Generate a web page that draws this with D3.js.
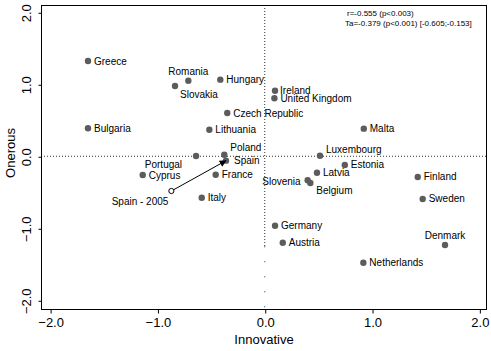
<!DOCTYPE html>
<html>
<head>
  <meta charset="UTF-8">
  <title>Innovative vs Onerous</title>
  <script src="https://d3js.org/d3.v7.min.js"></script>
  <style>
    body { margin: 0; background: white; }
    svg text { font-family: "Liberation Sans", Arial, sans-serif; fill: black; }
  </style>
</head>
<body>
<svg id="chart"></svg>
<script>
  // country scores
  let countries = ["Greece", "Romania", "Slovakia", "Hungary", "Czech Republic", "Bulgaria",
                   "Lithuania", "Ireland", "United Kingdom", "Malta", "Luxembourg", "Estonia",
                   "Latvia", "Slovenia", "Belgium", "Finland", "Poland", "Portugal", "Spain",
                   "Cyprus", "France", "Italy", "Sweden", "Germany", "Austria", "Denmark", "Netherlands"];
  let innovative = [-1.647, -0.712, -0.836, -0.414, -0.349, -1.647,
                    -0.516, 0.096, 0.090, 0.923, 0.515, 0.746,
                    0.487, 0.400, 0.425, 1.426, -0.377, -0.640, -0.361,
                    -1.137, -0.457, -0.587, 1.472, 0.096, 0.168, 1.680, 0.919];
  let onerous = [1.323, 1.050, 0.976, 1.064, 0.601, 0.389,
                 0.369, 0.911, 0.805, 0.384, 0.008, -0.121,
                 -0.228, -0.333, -0.371, -0.287, 0.022, 0.004, -0.061,
                 -0.260, -0.256, -0.575, -0.593, -0.964, -1.200, -1.232, -1.478];

  let spain2005 = { name: "Spain - 2005", innovative: -0.870, onerous: -0.482 };

  let xTicks = [-2, -1, 0, 1, 2];
  let yTicks = [-2, -1, 0, 1, 2];
  let statLines = ["r=-0.555 (p<0.003)", "Ta=-0.379 (p<0.001) [-0.605;-0.153]"];

  // label placement around each point: [dx, dy, anchor]
  let labelPos = {
    "Romania": [0, -9, "middle"],
    "Slovakia": [5, 8, "start"],
    "Luxembourg": [6, -6, "start"],
    "Slovenia": [-7, 1, "end"],
    "Belgium": [6, 8, "start"],
    "Poland": [6, -7, "start"],
    "Portugal": [-14, 9, "end"],
    "Spain": [8, 0, "start"],
    "Denmark": [0, -9, "middle"],
    "Ireland": [5, 0, "start"],
    "United Kingdom": [6, 0, "start"]
  };

  let width = 491, height = 351;
  let svg = d3.select("#chart").attr("width", width).attr("height", height);

  let x = d3.scaleLinear().domain([-2.085, 2.062]).range([41, 486]);
  let y = d3.scaleLinear().domain([-2.121, 2.101]).range([309, 5]);

  let data = countries.map((c, i) => ({ name: c, innovative: innovative[i], onerous: onerous[i] }));

  // reference lines
  svg.append("line")
     .attr("x1", x(0)).attr("x2", x(0))
     .attr("y1", y.range()[1]).attr("y2", y(-1.25))
     .attr("stroke", "#333").attr("stroke-width", 1).attr("stroke-dasharray", "1,2");
  svg.append("line")
     .attr("x1", x(0)).attr("x2", x(0))
     .attr("y1", y(-1.25)).attr("y2", y.range()[0])
     .attr("stroke", "#333").attr("stroke-width", 1).attr("stroke-dasharray", "1,14");
  svg.append("line")
     .attr("x1", x.range()[0]).attr("x2", x.range()[1])
     .attr("y1", y(0)).attr("y2", y(0))
     .attr("stroke", "#333").attr("stroke-width", 1).attr("stroke-dasharray", "1,2");

  // box
  svg.append("rect")
     .attr("x", x.range()[0] + 0.5).attr("y", y.range()[1] + 0.5)
     .attr("width", x.range()[1] - x.range()[0]).attr("height", y.range()[0] - y.range()[1])
     .attr("fill", "none").attr("stroke", "black").attr("stroke-width", 1);

  // axes
  let xAxis = svg.append("g").attr("transform", `translate(0.5,${y.range()[0] + 0.5})`)
     .call(d3.axisBottom(x).tickValues(xTicks).tickFormat(d3.format(".1f")).tickSize(4).tickSizeOuter(0));
  xAxis.select(".domain").remove();
  xAxis.selectAll("text").attr("font-size", 13).attr("dy", "0.7em").attr("y", 8)
       .style("font-family", "Liberation Sans, Arial, sans-serif");

  let yAxis = svg.append("g").attr("transform", `translate(${x.range()[0] + 0.5},0.5)`)
     .call(d3.axisLeft(y).tickValues(yTicks).tickFormat(d3.format(".1f")).tickSize(3).tickSizeOuter(0));
  yAxis.select(".domain").remove();
  yAxis.selectAll("text")
       .attr("font-size", 13)
       .attr("x", null).attr("dy", null)
       .attr("text-anchor", "middle")
       .attr("transform", d => `translate(-15,0) rotate(-90)`)
       .attr("dy", "0.35em")
       .style("font-family", "Liberation Sans, Arial, sans-serif");

  svg.append("text").attr("x", 264).attr("y", 344)
     .attr("text-anchor", "middle").attr("font-size", 13).text("Innovative");
  svg.append("text").attr("transform", "translate(10,153) rotate(-90)")
     .attr("text-anchor", "middle").attr("dy", "0.35em").attr("font-size", 13).text("Onerous");

  // stats note
  svg.selectAll(".stat").data(statLines).join("text")
     .attr("class", "stat")
     .attr("x", (d, i) => i == 0 ? 347 : 345)
     .attr("y", (d, i) => 15.5 + i * 10)
     .attr("font-size", 8)
     .text(d => d);

  // points
  svg.selectAll(".pt").data(data).join("circle")
     .attr("class", "pt")
     .attr("cx", d => x(d.innovative))
     .attr("cy", d => y(d.onerous))
     .attr("r", 3.2)
     .attr("fill", "#5c5c5c");

  svg.selectAll(".lbl").data(data).join("text")
     .attr("class", "lbl")
     .attr("x", d => x(d.innovative) + (labelPos[d.name] ? labelPos[d.name][0] : 6))
     .attr("y", d => y(d.onerous) + (labelPos[d.name] ? labelPos[d.name][1] : 0))
     .attr("dy", "0.35em")
     .attr("text-anchor", d => labelPos[d.name] ? labelPos[d.name][2] : "start")
     .attr("font-size", 10)
     .text(d => d.name);

  // Spain 2005 -> Spain arrow
  svg.append("defs").append("marker")
     .attr("id", "arrow").attr("viewBox", "0 0 10 10")
     .attr("refX", 9).attr("refY", 5)
     .attr("markerWidth", 7).attr("markerHeight", 7)
     .attr("markerUnits", "userSpaceOnUse")
     .attr("orient", "auto")
     .append("path").attr("d", "M0,0 L10,5 L0,10 z").attr("fill", "black");

  let spain = data.find(d => d.name == "Spain");
  svg.append("line")
     .attr("x1", x(spain2005.innovative)).attr("y1", y(spain2005.onerous))
     .attr("x2", x(spain.innovative)).attr("y2", y(spain.onerous))
     .attr("stroke", "black").attr("stroke-width", 1)
     .attr("marker-end", "url(#arrow)");
  svg.append("circle")
     .attr("cx", x(spain2005.innovative)).attr("cy", y(spain2005.onerous))
     .attr("r", 2.6).attr("fill", "white").attr("stroke", "black").attr("stroke-width", 1);
  svg.append("text")
     .attr("x", x(spain2005.innovative) - 3).attr("y", y(spain2005.onerous) + 11)
     .attr("dy", "0.35em").attr("text-anchor", "end").attr("font-size", 10)
     .text(spain2005.name);
</script>
</body>
</html>
